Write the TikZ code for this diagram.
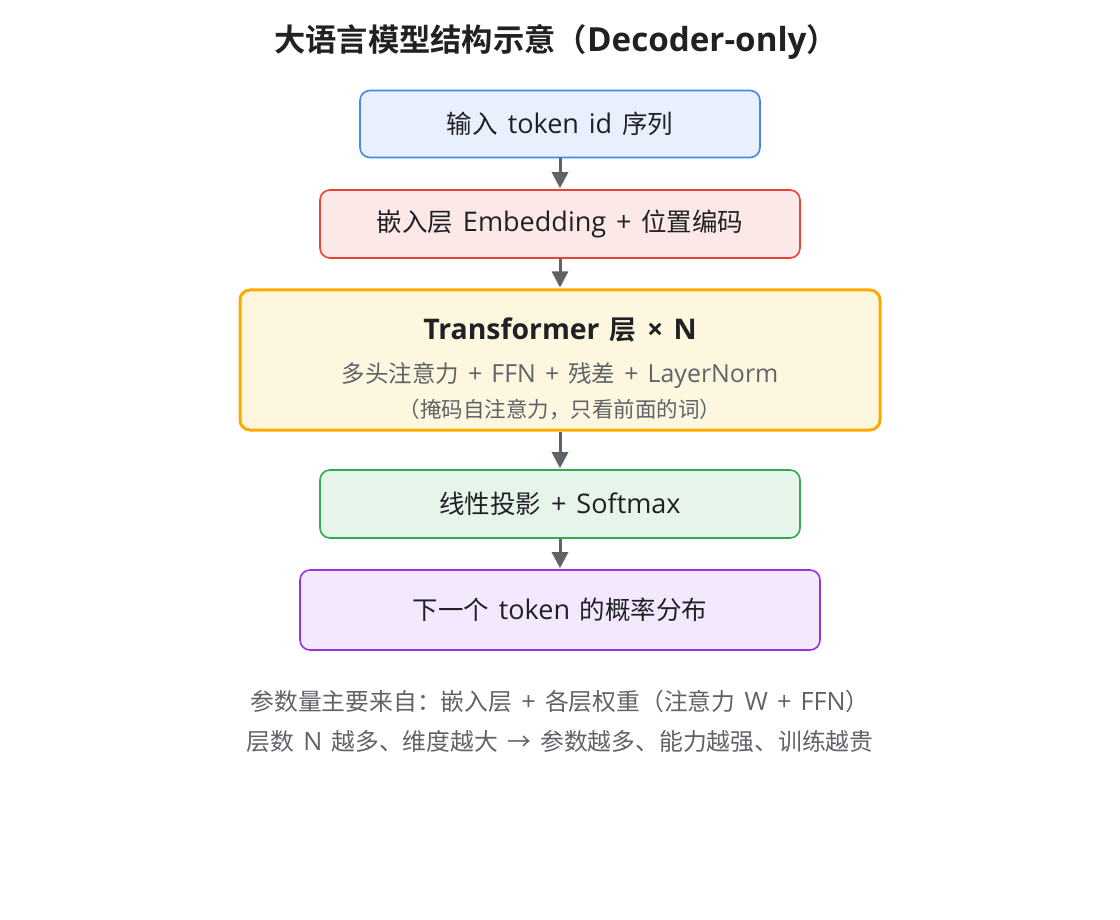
\documentclass[tikz,border=0pt]{standalone}
\usepackage{fontspec}
\setmainfont{Noto Sans CJK SC}[WordSpace=1.2]
\newfontfamily\cjkb{Noto Sans CJK SC Bold}
\newfontfamily\lat{Open Sans}[Scale=1.06, WordSpace=1.4]
\newcommand{\lt}[1]{{\lat #1}}
\newcommand{\ltb}[1]{{\lat\bfseries #1}}
\usetikzlibrary{arrows.meta}
\definecolor{bluefill}{HTML}{E8F0FE}
\definecolor{blueline}{HTML}{4A86E8}
\definecolor{redfill}{HTML}{FCE8E6}
\definecolor{redline}{HTML}{EA4335}
\definecolor{orfill}{HTML}{FEF7E0}
\definecolor{orline}{HTML}{F9AB00}
\definecolor{grfill}{HTML}{E6F4EA}
\definecolor{grline}{HTML}{34A853}
\definecolor{pufill}{HTML}{F3E8FD}
\definecolor{puline}{HTML}{9334E6}
\definecolor{arrowc}{HTML}{5F6368}
\definecolor{txt}{HTML}{202124}
\definecolor{subtxt}{HTML}{5F6368}
\tikzset{
  box/.style={draw, rounded corners=10pt, line width=1.6pt, inner sep=0pt, align=center, text=txt, font=\fontsize{25.5pt}{28pt}\selectfont},
  note/.style={font=\fontsize{23.8pt}{26pt}\selectfont, text=subtxt},
  conn/.style={draw=arrowc, line width=3pt, -{Triangle[length=16pt,width=16pt]}, shorten >=1pt},
}
\begin{document}
\begin{tikzpicture}[x=1pt,y=-1pt]
\useasboundingbox (0,0) rectangle (1120,920);
\node[font=\cjkb\fontsize{31.3pt}{36pt}\selectfont, text=txt] (title) at (556,42) {大语言模型结构示意（\ltb{Decoder-only}）};
\node[box, fill=bluefill, draw=blueline, minimum width=400pt, minimum height=67pt] (in) at (560,124) {输入\lt{ token id }序列};
\node[box, fill=redfill, draw=redline, minimum width=480pt, minimum height=68pt] (emb) at (560,224) {嵌入层\lt{ Embedding + }位置编码};
\node[box, fill=orfill, draw=orline, line width=3pt, minimum width=640pt, minimum height=140pt] (tf) at (560,360) {};
\node[font=\cjkb\fontsize{26.8pt}{32pt}\selectfont, text=txt] (tft) at (560,330) {\ltb{Transformer }层\ltb{ × N}};
\node[font=\fontsize{23.5pt}{26pt}\selectfont, text=subtxt] (tfs) at (560,376) {多头注意力\lt{ + FFN + }残差\lt{ + LayerNorm}};
\node[font=\fontsize{21.5pt}{24pt}\selectfont, text=subtxt] (tfn) at (560,409) {（掩码自注意力，只看前面的词）};
\node[box, fill=grfill, draw=grline, minimum width=480pt, minimum height=68pt] (lin) at (560,504) {线性投影\lt{ + Softmax}};
\node[box, fill=pufill, draw=puline, minimum width=520pt, minimum height=80pt] (out) at (560,610) {下一个\lt{ token }的概率分布};
\node[note] (n1) at (560,701) {参数量主要来自：嵌入层\lt{ + }各层权重（注意力\lt{ W + FFN}）};
\node[note] (n2) at (560,742) {层数\lt{ N }越多、维度越大\lt{ }→\lt{ }参数越多、能力越强、训练越贵};
\draw[conn] (in.south) -- (emb.north);
\draw[conn] (emb.south) -- (tf.north);
\draw[conn] (tf.south) -- (lin.north);
\draw[conn] (lin.south) -- (out.north);
\end{tikzpicture}
\end{document}
